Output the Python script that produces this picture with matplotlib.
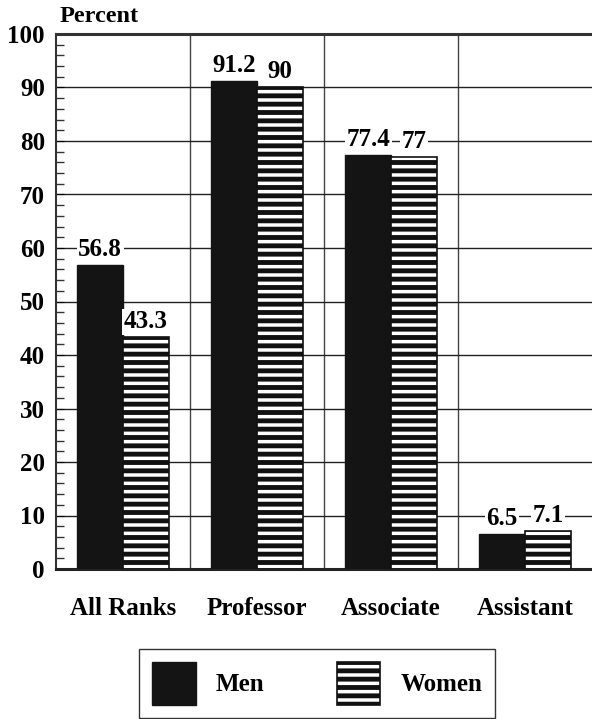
import numpy as np
import matplotlib.pyplot as plt
from matplotlib.patches import Patch

categories = ['All Ranks', 'Professor', 'Associate', 'Assistant']
men = [56.8, 91.2, 77.4, 6.5]
women = [43.3, 90, 77, 7.1]
men_labels = ['56.8', '91.2', '77.4', '6.5']
women_labels = ['43.3', '90', '77', '7.1']

plt.rcParams['font.family'] = ['Liberation Serif', 'DejaVu Serif']
plt.rcParams['font.weight'] = 'bold'
plt.rcParams['hatch.linewidth'] = 3.5
plt.rcParams['hatch.color'] = '#111111'

fs = 18


def plot_chart():
    fig = plt.figure(figsize=(5.92, 7.19), dpi=100)
    ax = fig.add_axes([56 / 592, 1 - 569 / 719, 1 - 56 / 592, 535 / 719])

    x = np.arange(len(categories))
    w = 0.34
    ax.bar(x - w / 2, men, w, color='#141414', edgecolor='#141414', linewidth=1, zorder=3)
    ax.bar(x + w / 2, women, w, color='white', edgecolor='#111111', hatch='--',
           linewidth=1.2, zorder=3)

    # value labels sit on a white box so the gridlines stop at them
    for xi, v, s in zip(x - w / 2, men, men_labels):
        ax.annotate(s, (xi, v), xytext=(0, 3), textcoords='offset points',
                    ha='center', va='bottom', fontsize=fs, fontweight='bold', zorder=5,
                    bbox=dict(facecolor='white', edgecolor='none', pad=1))
    for xi, v, s in zip(x + w / 2, women, women_labels):
        ax.annotate(s, (xi, v), xytext=(0, 3), textcoords='offset points',
                    ha='center', va='bottom', fontsize=fs, fontweight='bold', zorder=5,
                    bbox=dict(facecolor='white', edgecolor='none', pad=1))

    ax.set_xlim(-0.5, 3.5)
    ax.set_ylim(0, 100)
    ax.set_yticks(np.arange(0, 101, 10))
    ax.set_yticks(np.arange(0, 101, 2), minor=True)
    ax.yaxis.grid(True, color='#222222', linewidth=1.0, zorder=1)
    for b in [0.5, 1.5, 2.5]:
        ax.axvline(b, color='#444444', linewidth=1.0, zorder=1)

    ax.set_xticks(x)
    ax.set_xticklabels(categories, fontsize=fs, fontweight='bold')
    ax.tick_params(axis='x', length=0, pad=20)
    ax.tick_params(axis='y', which='major', direction='in', length=6, labelsize=fs, pad=8)
    ax.tick_params(axis='y', which='minor', direction='in', length=6, width=1, color='#333333')

    ax.spines['right'].set_visible(False)
    ax.spines['top'].set_linewidth(2.2)
    ax.spines['top'].set_color('#333333')
    ax.spines['bottom'].set_linewidth(2.2)
    ax.spines['bottom'].set_color('#222222')
    ax.spines['left'].set_linewidth(1.5)
    ax.spines['left'].set_color('#333333')

    fig.text(60 / 592, 1 - 16 / 719, 'Percent', ha='left', va='center',
             fontsize=17.5, fontweight='bold')

    handles = [Patch(facecolor='#141414', edgecolor='#141414', label='Men'),
               Patch(facecolor='white', edgecolor='#111111', hatch='--', linewidth=1.2,
                     label='Women')]
    fig.legend(handles=handles, loc='center', bbox_to_anchor=(317 / 592, 1 - 683.5 / 719),
               ncol=2, prop={'weight': 'bold', 'size': fs},
               handlelength=1.75, handleheight=2.3, handletextpad=0.8,
               columnspacing=2.9, borderpad=0.5, fancybox=False, frameon=True,
               edgecolor='#333333', framealpha=1)

    fig.savefig('out.png', dpi=100)


if __name__ == '__main__':
    plot_chart()
